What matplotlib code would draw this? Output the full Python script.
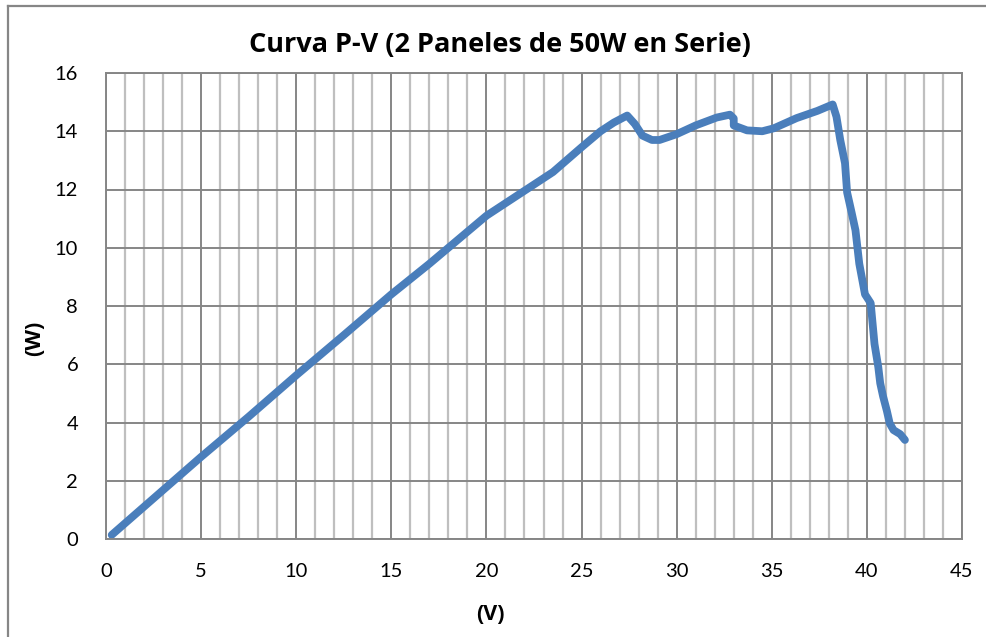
import matplotlib.pyplot as plt
import numpy as np
from matplotlib.lines import Line2D
from matplotlib.ticker import MultipleLocator

# Curva P-V medida, dos paneles de 50 W en serie
voltage = [0.3, 2.0, 5.0, 7.5, 10.0, 12.5, 15.0, 17.0, 18.0, 20.0, 22.1,
           23.5, 25.0, 26.0, 26.7, 27.4, 27.8, 28.2, 28.7, 29.1, 30.0, 31.0,
           32.1, 32.8, 33.0, 33.0, 33.7, 34.5, 35.1, 36.3, 37.4, 38.2, 38.4,
           38.6, 38.85, 38.96, 39.2, 39.4, 39.6, 39.9, 40.2, 40.3, 40.4, 40.6,
           40.7, 40.85, 41.05, 41.2, 41.4, 41.75, 42.0]
power = [0.14, 1.11, 2.82, 4.2, 5.62, 7.0, 8.4, 9.45, 10.0, 11.1, 12.0,
         12.6, 13.45, 14.0, 14.3, 14.54, 14.25, 13.85, 13.7, 13.7, 13.9, 14.2,
         14.47, 14.57, 14.44, 14.2, 14.03, 14.0, 14.1, 14.45, 14.7, 14.92, 14.5,
         13.7, 12.9, 11.9, 11.2, 10.6, 9.45, 8.4, 8.1, 7.4, 6.7, 5.9,
         5.35, 4.9, 4.4, 3.97, 3.74, 3.6, 3.4]

title = "Curva P-V (2 Paneles de 50W en Serie)"
xlabel = "(V)"
ylabel = "(W)"

plt.rcParams["font.family"] = ["Lato", "DejaVu Sans"]
bold_font = ["Open Sans", "DejaVu Sans"]

fig = plt.figure(figsize=(9.86, 6.37), dpi=100)
ax = fig.add_axes([106 / 986, 98 / 637, 856 / 986, 466 / 637])

ax.set_xlim(0, 45)
ax.set_ylim(0, 16)
ax.xaxis.set_major_locator(MultipleLocator(5))
ax.xaxis.set_minor_locator(MultipleLocator(1))
ax.yaxis.set_major_locator(MultipleLocator(2))

ax.grid(which="minor", axis="x", color="#bfbfbf", linewidth=1.6)
ax.grid(which="major", axis="x", color="#868686", linewidth=1.4)
ax.grid(which="major", axis="y", color="#868686", linewidth=1.4)
ax.set_axisbelow(True)
for side in ax.spines.values():
    side.set_color("#868686")
    side.set_linewidth(1.4)

ax.tick_params(which="both", length=0, labelsize=14.5, colors="black")
ax.tick_params(axis="x", pad=17)
ax.tick_params(axis="y", pad=20)

ax.plot(voltage, power, color="#4a7ebb", linewidth=5.6,
        solid_capstyle="round", solid_joinstyle="round")

fig.text(500 / 986, 1 - 45 / 637, title, ha="center", va="center",
         fontsize=19.5, fontweight="bold", family=bold_font)
fig.text(490 / 986, 1 - 615 / 637, xlabel, ha="center", va="center",
         fontsize=15.5, fontweight="bold", family=bold_font)
fig.text(35 / 986, 1 - 338 / 637, ylabel, ha="center", va="center",
         fontsize=15.5, fontweight="bold", rotation=90, family=bold_font)

# marco exterior del gráfico
fig.add_artist(Line2D([8 / 986, 1.0], [1 - 6 / 637] * 2, color="#868686",
                      linewidth=1.6, transform=fig.transFigure))
fig.add_artist(Line2D([8 / 986] * 2, [0.0, 1 - 6 / 637], color="#868686",
                      linewidth=1.6, transform=fig.transFigure))

fig.savefig("out.png", dpi=100)
